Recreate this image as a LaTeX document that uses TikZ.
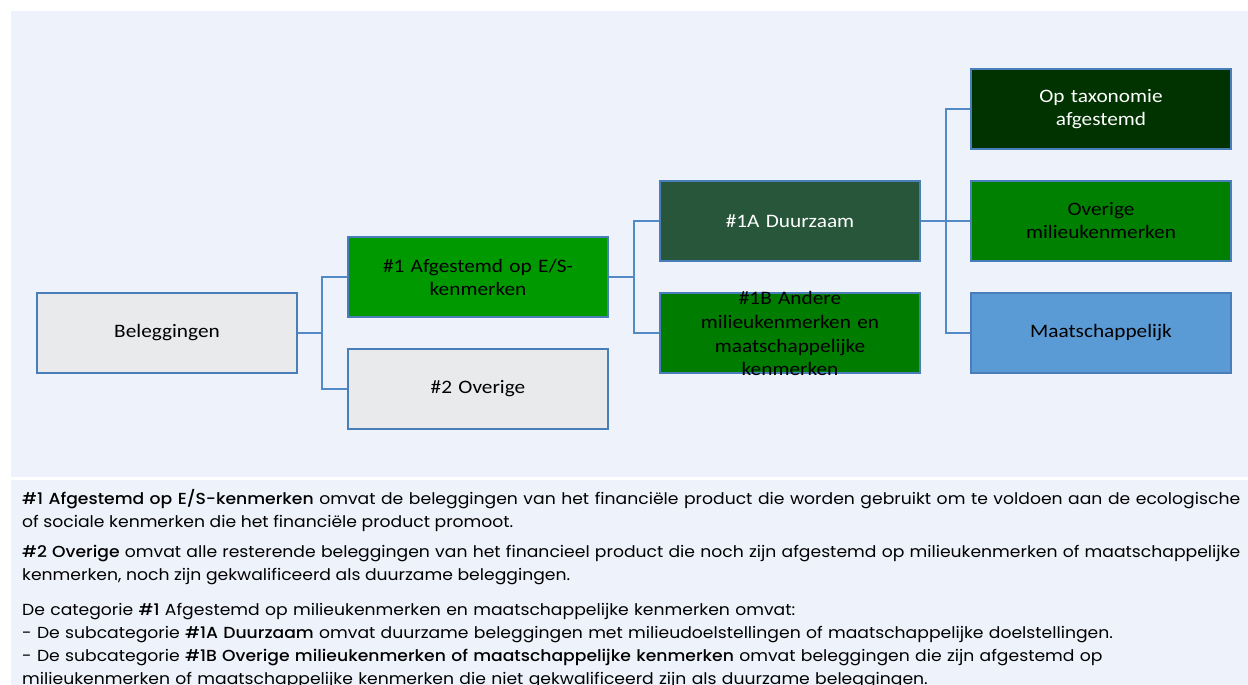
\documentclass[tikz,border=0pt]{standalone}
\usepackage{fontspec}
\setmainfont{Poppins}[FakeStretch=1.075, BoldFont={Poppins Medium}]
\newfontfamily\boxfont{Carlito}[FakeStretch=1.12]
\definecolor{panelbg}{RGB}{238,242,250}
\definecolor{boxline}{RGB}{74,126,187}
\definecolor{linkblue}{RGB}{82,137,198}
\definecolor{greybox}{RGB}{232,234,235}
\definecolor{greenmid}{RGB}{0,153,0}
\definecolor{greendark}{RGB}{39,86,58}
\definecolor{greenother}{RGB}{0,124,0}
\definecolor{greentax}{RGB}{0,51,0}
\definecolor{greenenv}{RGB}{0,128,0}
\definecolor{socialblue}{RGB}{91,155,213}
\begin{document}
\begin{tikzpicture}[x=1pt,y=-1pt,
    box/.style={draw=boxline, line width=1.8pt, minimum width=260pt,
      minimum height=80pt, text width=240pt, align=center, inner sep=0pt,
      font=\boxfont\fontsize{19}{23}\selectfont},
    link/.style={draw=linkblue, line width=2pt},
    note/.style={anchor=north west, inner sep=0pt, text width=1218pt,
      font=\fontsize{16}{23}\selectfont}]
  \useasboundingbox (0,0) rectangle (1248,685);
  % panels
  \fill[white] (0,0) rectangle (1248,685);
  \fill[panelbg] (11,11) rectangle (1248,477);
  \fill[panelbg] (11,480) rectangle (1248,685);
  % tree
  \draw
    (167,333) node[box, fill=greybox] (bel) {Beleggingen}
    (478,277) node[box, fill=greenmid] (af) {\#1 Afgestemd op E/S-\\kenmerken}
    (478,389) node[box, fill=greybox] (ov) {\#2 Overige}
    (790,221) node[box, fill=greendark, text=white] (dz) {\#1A Duurzaam}
    (790,333) node[box, fill=greenother] (an)
      {\smash{\raisebox{-5pt}{\parbox[c]{240pt}{\centering\baselineskip=23.7pt
        \#1B Andere\\milieukenmerken en\\maatschappelijke\\kenmerken}}}}
    (1101,109) node[box, fill=greentax, text=white] (tax) {Op taxonomie\\afgestemd}
    (1101,221) node[box, fill=greenenv] (mil) {Overige\\milieukenmerken}
    (1101,333) node[box, fill=socialblue] (maat) {Maatschappelijk};
  \coordinate (j1) at (322,333);
  \coordinate (j2) at (634,277);
  \coordinate (j3) at (946,221);
  \begin{scope}[link]
    \draw (bel) -- (j1);
    \draw (j1) |- (af);
    \draw (j1) |- (ov);
    \draw (af) -- (j2);
    \draw (j2) |- (dz);
    \draw (j2) |- (an);
    \draw (dz) -- (j3);
    \draw (j3) |- (tax);
    \draw (j3) |- (mil);
    \draw (j3) |- (maat);
  \end{scope}
  % explanation
  \node[note, align=justify] (p1) at (22,489)
    {\textbf{\#1 Afgestemd op E/S-kenmerken} omvat de beleggingen van het financiële product die worden gebruikt om te voldoen aan de ecologische\linebreak
     of sociale kenmerken die het financiële product promoot.};
  \node[note, align=justify] (p2) at (22,545)
    {\textbf{\#2 Overige} omvat alle resterende beleggingen van het financieel product die noch zijn afgestemd op milieukenmerken of maatschappelijke\linebreak
     kenmerken, noch zijn gekwalificeerd als duurzame beleggingen.};
  \node[note, align=left] (p3) at (22,603)
    {De categorie \textbf{\#1} Afgestemd op milieukenmerken en maatschappelijke kenmerken omvat:\\
     - De subcategorie \textbf{\#1A Duurzaam} omvat duurzame beleggingen met milieudoelstellingen of maatschappelijke doelstellingen.\\
     - De subcategorie \textbf{\#1B Overige milieukenmerken of maatschappelijke kenmerken} omvat beleggingen die zijn afgestemd op\\
     milieukenmerken of maatschappelijke kenmerken die niet gekwalificeerd zijn als duurzame beleggingen.};
\end{tikzpicture}
\end{document}
